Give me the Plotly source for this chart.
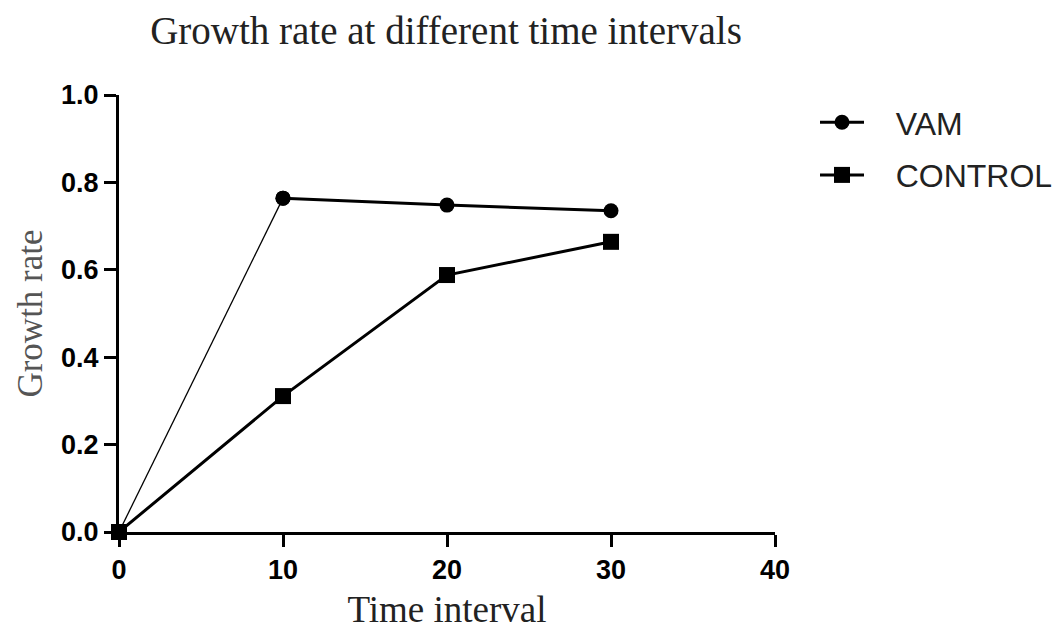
import plotly.graph_objects as go

time = [0, 10, 20, 30]
vam = [0.0, 0.764, 0.748, 0.735]
control = [0.0, 0.311, 0.588, 0.664]
x_ticks = [0, 10, 20, 30, 40]
y_ticks = [0.0, 0.2, 0.4, 0.6, 0.8, 1.0]
series_names = ["VAM", "CONTROL"]

OFF = 8  # page body margin offset
PAD = "\u00a0\u00a0\u00a0"

fig = go.Figure()
# thin first VAM segment (0 -> 10)
fig.add_trace(go.Scatter(x=time[:2], y=vam[:2], mode="lines+markers",
                         line=dict(color="black", width=1.3),
                         marker=dict(symbol="circle", size=15, color="black"),
                         showlegend=False, hoverinfo="skip", cliponaxis=False))
fig.add_trace(go.Scatter(x=time[1:], y=vam[1:], mode="lines+markers", name=PAD + series_names[0],
                         legendgroup="a",
                         marker=dict(symbol="circle", size=15, color="black"),
                         line=dict(color="black", width=3), cliponaxis=False))
fig.add_trace(go.Scatter(x=time, y=control, mode="lines+markers", name=PAD + series_names[1],
                         legendgroup="b",
                         marker=dict(symbol="square", size=16, color="black"),
                         line=dict(color="black", width=3), cliponaxis=False))

W, H = 1063, 635
l, t = 119 - OFF, 95 - OFF
r = W - (775 - OFF)
b = H - (532 - OFF)
plot_w = W - l - r
plot_h = H - t - b

fig.update_layout(
    width=W, height=H,
    margin=dict(l=l, r=r, t=t, b=b, autoexpand=False),
    paper_bgcolor="white", plot_bgcolor="white",
    title=dict(text="Growth rate at different time intervals",
               font=dict(family="Liberation Serif", size=39, color="#222"),
               x=(446 - OFF) / W, xanchor="center", y=1 - (30 - OFF) / H, yanchor="middle"),
    legend=dict(x=(815 - OFF - l) / plot_w, y=((532 - OFF) - (95 - OFF)) / plot_h,
                xanchor="left", yanchor="top",
                font=dict(family="Liberation Sans", size=32, color="#222"),
                itemsizing="trace", itemwidth=44, tracegroupgap=8,
                bgcolor="rgba(0,0,0,0)"),
    showlegend=True,
)

fig.update_xaxes(range=[0, 40], tickvals=x_ticks, ticktext=[str(v) for v in x_ticks],
                 showline=True, linecolor="black", linewidth=3, automargin=False,
                 ticks="outside", ticklen=12, tickwidth=2.5, tickcolor="black",
                 showgrid=False, zeroline=False,
                 tickfont=dict(family="Liberation Sans", size=27, color="black", weight="bold"),
                 title=dict(text="Time interval", standoff=12,
                            font=dict(family="Liberation Serif", size=37, color="#222")))
fig.update_yaxes(range=[0, 1.0], tickvals=y_ticks, ticktext=[f"{v:.1f}" for v in y_ticks],
                 showline=True, linecolor="black", linewidth=3, automargin=False,
                 ticks="outside", ticklen=12, tickwidth=2.5, tickcolor="black",
                 showgrid=False, zeroline=False,
                 tickfont=dict(family="Liberation Sans", size=27, color="black", weight="bold"),
                 title=dict(text="Growth rate", standoff=8,
                            font=dict(family="Liberation Serif", size=35, color="#555")))

fig.write_html("out.html")
